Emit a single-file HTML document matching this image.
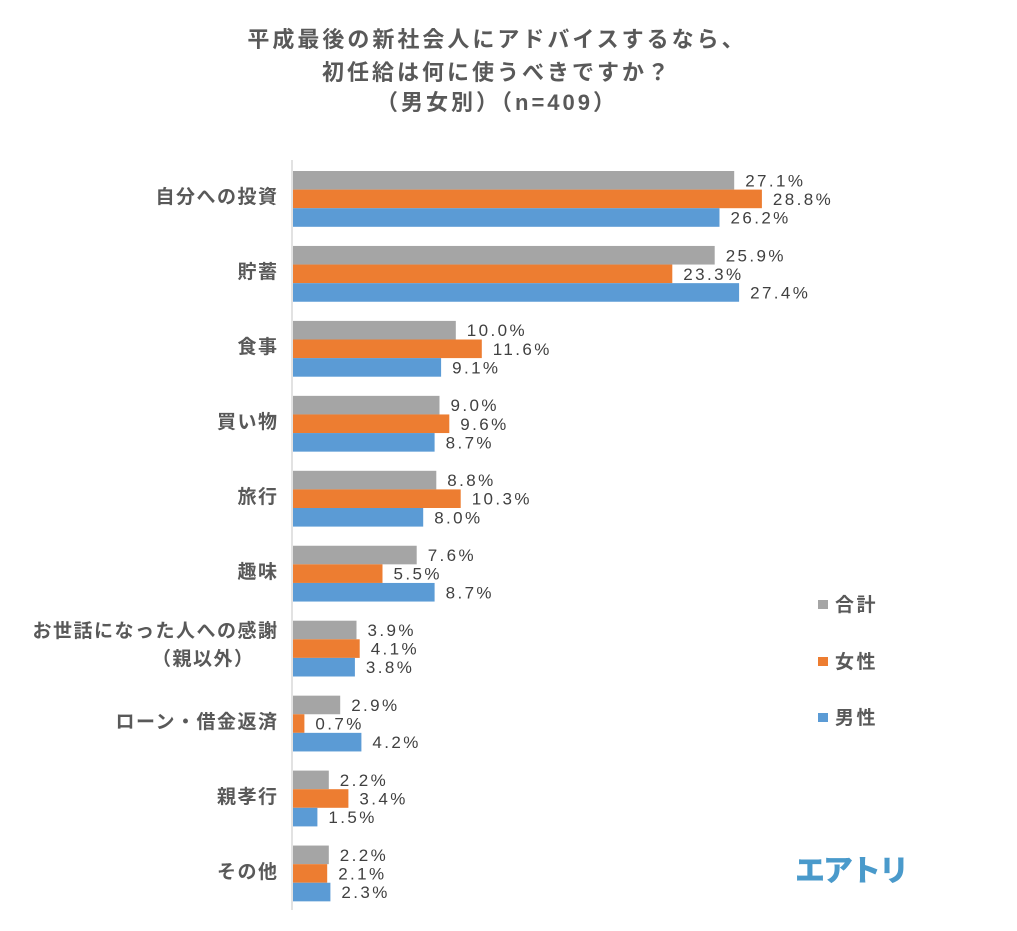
<!DOCTYPE html>
<html><head><meta charset="utf-8">
<style>
html,body{margin:0;padding:0;background:#fff;}
body{width:1017px;height:931px;position:relative;overflow:hidden;}
.t{position:absolute;left:0;width:994px;text-align:center;font-family:"Liberation Sans","Noto Sans CJK JP",sans-serif;font-weight:700;font-size:22px;line-height:30px;letter-spacing:3px;color:#595959;white-space:nowrap;}
.c{position:absolute;right:740px;font-family:"Liberation Sans","Noto Sans CJK JP",sans-serif;font-weight:700;font-size:19px;line-height:20px;letter-spacing:1.5px;margin-right:-1.5px;color:#595959;white-space:nowrap;text-align:right;}
.lg{position:absolute;left:835px;font-family:"Noto Sans CJK JP",sans-serif;font-weight:700;font-size:19px;line-height:20px;letter-spacing:2.5px;color:#595959;white-space:nowrap;}
.sq{position:absolute;left:818px;width:10px;height:9px;}
.logo{position:absolute;left:795px;top:853px;font-family:"Noto Sans CJK JP",sans-serif;font-weight:900;font-size:30px;line-height:30px;letter-spacing:-2px;color:#4a9acb;white-space:nowrap;}
svg{position:absolute;left:0;top:0;}
svg text{font-family:"Liberation Sans",sans-serif;font-size:17px;letter-spacing:2.4px;fill:#404040;}
</style></head><body>
<div class="t" style="top:25px">平成最後の新社会人にアドバイスするなら、</div>
<div class="t" style="top:57.5px">初任給は何に使うべきですか？</div>
<div class="t" style="top:88px">（男女別）（n=409）</div>

<svg width="1017" height="931" viewBox="0 0 1017 931">
<line x1="292" y1="160" x2="292" y2="910" stroke="#d9d9d9" stroke-width="1.5"/>
<g>
<rect x="293" y="171" width="441.2" height="18.6" fill="#a5a5a5"/>
<rect x="293" y="189.6" width="468.9" height="18.6" fill="#ed7d31"/>
<rect x="293" y="208.2" width="426.5" height="18.6" fill="#5b9bd5"/>
<text x="745.2" y="186.3">27.1%</text>
<text x="772.9" y="204.9">28.8%</text>
<text x="730.5" y="223.5">26.2%</text>
<rect x="293" y="245.95" width="421.7" height="18.6" fill="#a5a5a5"/>
<rect x="293" y="264.55" width="379.3" height="18.6" fill="#ed7d31"/>
<rect x="293" y="283.15" width="446.1" height="18.6" fill="#5b9bd5"/>
<text x="725.7" y="261.25">25.9%</text>
<text x="683.3" y="279.85">23.3%</text>
<text x="750.1" y="298.45">27.4%</text>
<rect x="293" y="320.9" width="162.8" height="18.6" fill="#a5a5a5"/>
<rect x="293" y="339.5" width="188.8" height="18.6" fill="#ed7d31"/>
<rect x="293" y="358.1" width="148.1" height="18.6" fill="#5b9bd5"/>
<text x="466.8" y="336.2">10.0%</text>
<text x="492.8" y="354.8">11.6%</text>
<text x="452.1" y="373.4">9.1%</text>
<rect x="293" y="395.85" width="146.5" height="18.6" fill="#a5a5a5"/>
<rect x="293" y="414.45" width="156.3" height="18.6" fill="#ed7d31"/>
<rect x="293" y="433.05" width="141.6" height="18.6" fill="#5b9bd5"/>
<text x="450.5" y="411.15">9.0%</text>
<text x="460.3" y="429.75">9.6%</text>
<text x="445.6" y="448.35">8.7%</text>
<rect x="293" y="470.8" width="143.3" height="18.6" fill="#a5a5a5"/>
<rect x="293" y="489.4" width="167.7" height="18.6" fill="#ed7d31"/>
<rect x="293" y="508" width="130.2" height="18.6" fill="#5b9bd5"/>
<text x="447.3" y="486.1">8.8%</text>
<text x="471.7" y="504.7">10.3%</text>
<text x="434.2" y="523.3">8.0%</text>
<rect x="293" y="545.75" width="123.7" height="18.6" fill="#a5a5a5"/>
<rect x="293" y="564.35" width="89.5" height="18.6" fill="#ed7d31"/>
<rect x="293" y="582.95" width="141.6" height="18.6" fill="#5b9bd5"/>
<text x="427.7" y="561.05">7.6%</text>
<text x="393.5" y="579.65">5.5%</text>
<text x="445.6" y="598.25">8.7%</text>
<rect x="293" y="620.7" width="63.5" height="18.6" fill="#a5a5a5"/>
<rect x="293" y="639.3" width="66.7" height="18.6" fill="#ed7d31"/>
<rect x="293" y="657.9" width="61.9" height="18.6" fill="#5b9bd5"/>
<text x="367.5" y="636">3.9%</text>
<text x="370.7" y="654.6">4.1%</text>
<text x="365.9" y="673.2">3.8%</text>
<rect x="293" y="695.65" width="47.2" height="18.6" fill="#a5a5a5"/>
<rect x="293" y="714.25" width="11.4" height="18.6" fill="#ed7d31"/>
<rect x="293" y="732.85" width="68.4" height="18.6" fill="#5b9bd5"/>
<text x="351.2" y="710.95">2.9%</text>
<text x="315.4" y="729.55">0.7%</text>
<text x="372.4" y="748.15">4.2%</text>
<rect x="293" y="770.6" width="35.8" height="18.6" fill="#a5a5a5"/>
<rect x="293" y="789.2" width="55.4" height="18.6" fill="#ed7d31"/>
<rect x="293" y="807.8" width="24.4" height="18.6" fill="#5b9bd5"/>
<text x="339.8" y="785.9">2.2%</text>
<text x="359.4" y="804.5">3.4%</text>
<text x="328.4" y="823.1">1.5%</text>
<rect x="293" y="845.55" width="35.8" height="18.6" fill="#a5a5a5"/>
<rect x="293" y="864.15" width="34.2" height="18.6" fill="#ed7d31"/>
<rect x="293" y="882.75" width="37.4" height="18.6" fill="#5b9bd5"/>
<text x="339.8" y="860.85">2.2%</text>
<text x="338.2" y="879.45">2.1%</text>
<text x="341.4" y="898.05">2.3%</text>
</g>
</svg>

<div class="c" style="top:188px">自分への投資</div>
<div class="c" style="top:263px">貯蓄</div>
<div class="c" style="top:338px">食事</div>
<div class="c" style="top:413px">買い物</div>
<div class="c" style="top:488px">旅行</div>
<div class="c" style="top:563px">趣味</div>
<div class="c" style="top:622px">お世話になった人への感謝</div>
<div class="c" style="top:650px;right:764px;">（親以外）</div>
<div class="c" style="top:713px">ローン・借金返済</div>
<div class="c" style="top:788px">親孝行</div>
<div class="c" style="top:863px">その他</div>

<div class="sq" style="top:600px;background:#a5a5a5"></div>
<div class="lg" style="top:594px">合計</div>
<div class="sq" style="top:657px;background:#ed7d31"></div>
<div class="lg" style="top:651px">女性</div>
<div class="sq" style="top:713px;background:#5b9bd5"></div>
<div class="lg" style="top:707px">男性</div>

<div class="logo">エアトリ</div>
</body></html>
